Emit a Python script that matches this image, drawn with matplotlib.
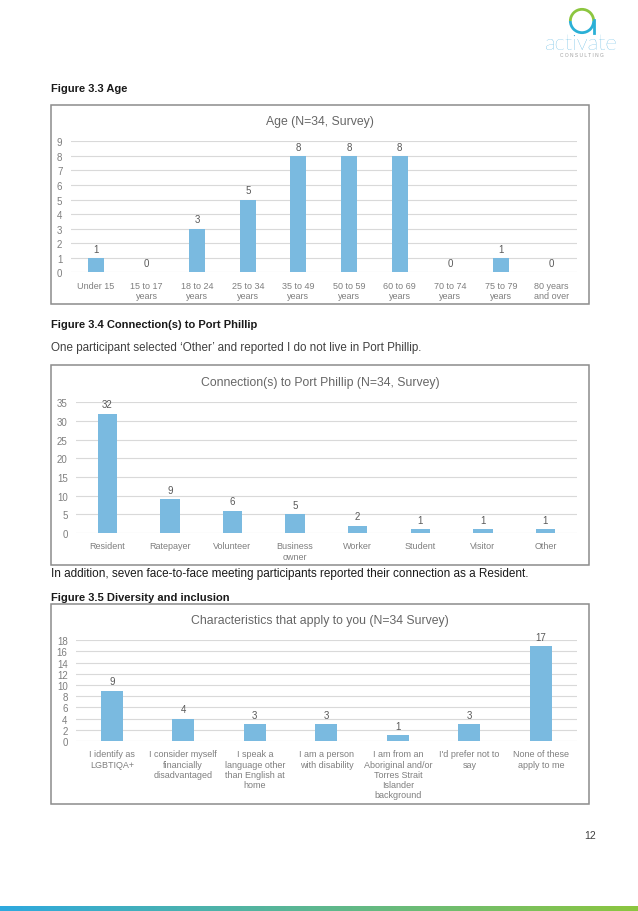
import numpy as np
import matplotlib
matplotlib.use("Agg")
import matplotlib.pyplot as plt
from matplotlib.patches import Rectangle, Arc

plt.rcParams['font.family'] = ['Liberation Sans', 'DejaVu Sans']

# chart data
age_labels = ["Under 15", "15 to 17\nyears", "18 to 24\nyears", "25 to 34\nyears", "35 to 49\nyears",
              "50 to 59\nyears", "60 to 69\nyears", "70 to 74\nyears", "75 to 79\nyears", "80 years\nand over"]
age_counts = [1, 0, 3, 5, 8, 8, 8, 0, 1, 0]

conn_labels = ["Resident", "Ratepayer", "Volunteer", "Business\nowner", "Worker", "Student", "Visitor", "Other"]
conn_counts = [32, 9, 6, 5, 2, 1, 1, 1]

div_labels = ["I identify as\nLGBTIQA+", "I consider myself\nfinancially\ndisadvantaged",
              "I speak a\nlanguage other\nthan English at\nhome", "I am a person\nwith disability",
              "I am from an\nAboriginal and/or\nTorres Strait\nIslander\nbackground",
              "I'd prefer not to\nsay", "None of these\napply to me"]
div_counts = [9, 4, 3, 3, 1, 3, 17]

W, H = 638, 912
BAR = "#7ABAE0"
GREY = "#7F7F7F"
GRID = "#D9D9D9"

fig = plt.figure(figsize=(W / 100, H / 100), dpi=100)


def px_axes(x0, y0, x1, y1):
    # axes placed with page pixel coords (top-left origin)
    return fig.add_axes([x0 / W, 1 - y1 / H, (x1 - x0) / W, (y1 - y0) / H])


def page_text(x, y, s, **kw):
    fig.text(x / W, 1 - y / H, s, **kw)


def box(x0, y0, x1, y1):
    fig.patches.append(Rectangle((x0 / W, 1 - y1 / H), (x1 - x0) / W, (y1 - y0) / H,
                                 transform=fig.transFigure, fill=False,
                                 edgecolor="#8C8C8C", lw=1.1))


def bar_chart(ax, labels, counts, ymax, step, width):
    x = np.arange(len(labels))
    bars = ax.bar(x, counts, width=width, color=BAR, zorder=3)
    ax.bar_label(bars, padding=3, fontsize=7, color="#595959")
    ax.set_xlim(-0.5, len(labels) - 0.5)
    ax.set_ylim(0, ymax)
    ax.set_yticks(np.arange(0, ymax + 1, step))
    ax.set_xticks(x)
    ax.set_xticklabels(labels, fontsize=6.5, color=GREY, linespacing=1.18)
    ax.tick_params(axis="y", labelsize=7, labelcolor=GREY, length=0, pad=6)
    ax.tick_params(axis="x", length=0, pad=6)
    ax.yaxis.grid(True, color=GRID, lw=0.8, zorder=0)
    for s in ax.spines.values():
        s.set_visible(False)


# logo, top right
logo = px_axes(568, 8, 596, 36)
logo.set_xlim(-1.2, 1.2)
logo.set_ylim(-1.2, 1.2)
logo.set_aspect("equal")
logo.axis("off")
logo.add_patch(Arc((0, 0), 2, 2, theta1=0, theta2=180, color="#8CC63F", lw=2))
logo.add_patch(Arc((0, 0), 2, 2, theta1=180, theta2=360, color="#2BB0D6", lw=2))
logo.plot([1, 1], [-1.05, 0.1], color="#2BB0D6", lw=2)
page_text(581, 44, "activate", fontsize=16, family="Lato", fontweight="light", color="#2FA3DA",
          ha="center", va="center")
page_text(582, 55.5, "C O N S U L T I N G", fontsize=3.5, color="#A0A0A0", ha="center", va="center")

# Figure 3.3 Age
page_text(51, 89, "Figure 3.3 Age", fontsize=8, fontweight="bold", color="#1A1A1A", va="center")
box(51, 106, 589, 305)
page_text(320, 122, "Age (N=34, Survey)", fontsize=8.8, color="#666666", ha="center", va="center")
ax1 = px_axes(70.7, 142.3, 576.7, 273.3)
bar_chart(ax1, age_labels, age_counts, 9, 1, 0.32)

# Figure 3.4 Connection(s)
page_text(51, 325, "Figure 3.4 Connection(s) to Port Phillip", fontsize=8, fontweight="bold",
          color="#1A1A1A", va="center")
page_text(51, 348, "One participant selected \u2018Other\u2019 and reported I do not live in Port Phillip.",
          fontsize=8.4, color="#404040", va="center")
box(51, 366, 589, 566)
page_text(320, 383, "Connection(s) to Port Phillip (N=34, Survey)", fontsize=8.8, color="#666666",
          ha="center", va="center")
ax2 = px_axes(76, 403.3, 576.7, 534)
bar_chart(ax2, conn_labels, conn_counts, 35, 5, 0.31)
page_text(51, 574, "In addition, seven face-to-face meeting participants reported their connection as a Resident.",
          fontsize=8.5, color="#1A1A1A", va="center")

# Figure 3.5 Diversity
page_text(51, 598, "Figure 3.5 Diversity and inclusion", fontsize=8, fontweight="bold",
          color="#1A1A1A", va="center")
box(51, 605, 589, 805)
page_text(320, 621, "Characteristics that apply to you (N=34 Survey)", fontsize=8.8, color="#666666",
          ha="center", va="center")
ax3 = px_axes(76, 641.3, 576.7, 742)
bar_chart(ax3, div_labels, div_counts, 18, 2, 0.31)

# page number and footer stripe
page_text(590, 836, "12", fontsize=7.5, color="#404040", ha="center", va="center")
stripe = px_axes(0, 907, W, H)
stripe.imshow(np.linspace(0, 1, 256)[None, :], aspect="auto",
              cmap=matplotlib.colors.LinearSegmentedColormap.from_list("s", ["#2EA9DF", "#8CC63F"]))
stripe.axis("off")

fig.savefig("out.png", dpi=100, facecolor="white")
